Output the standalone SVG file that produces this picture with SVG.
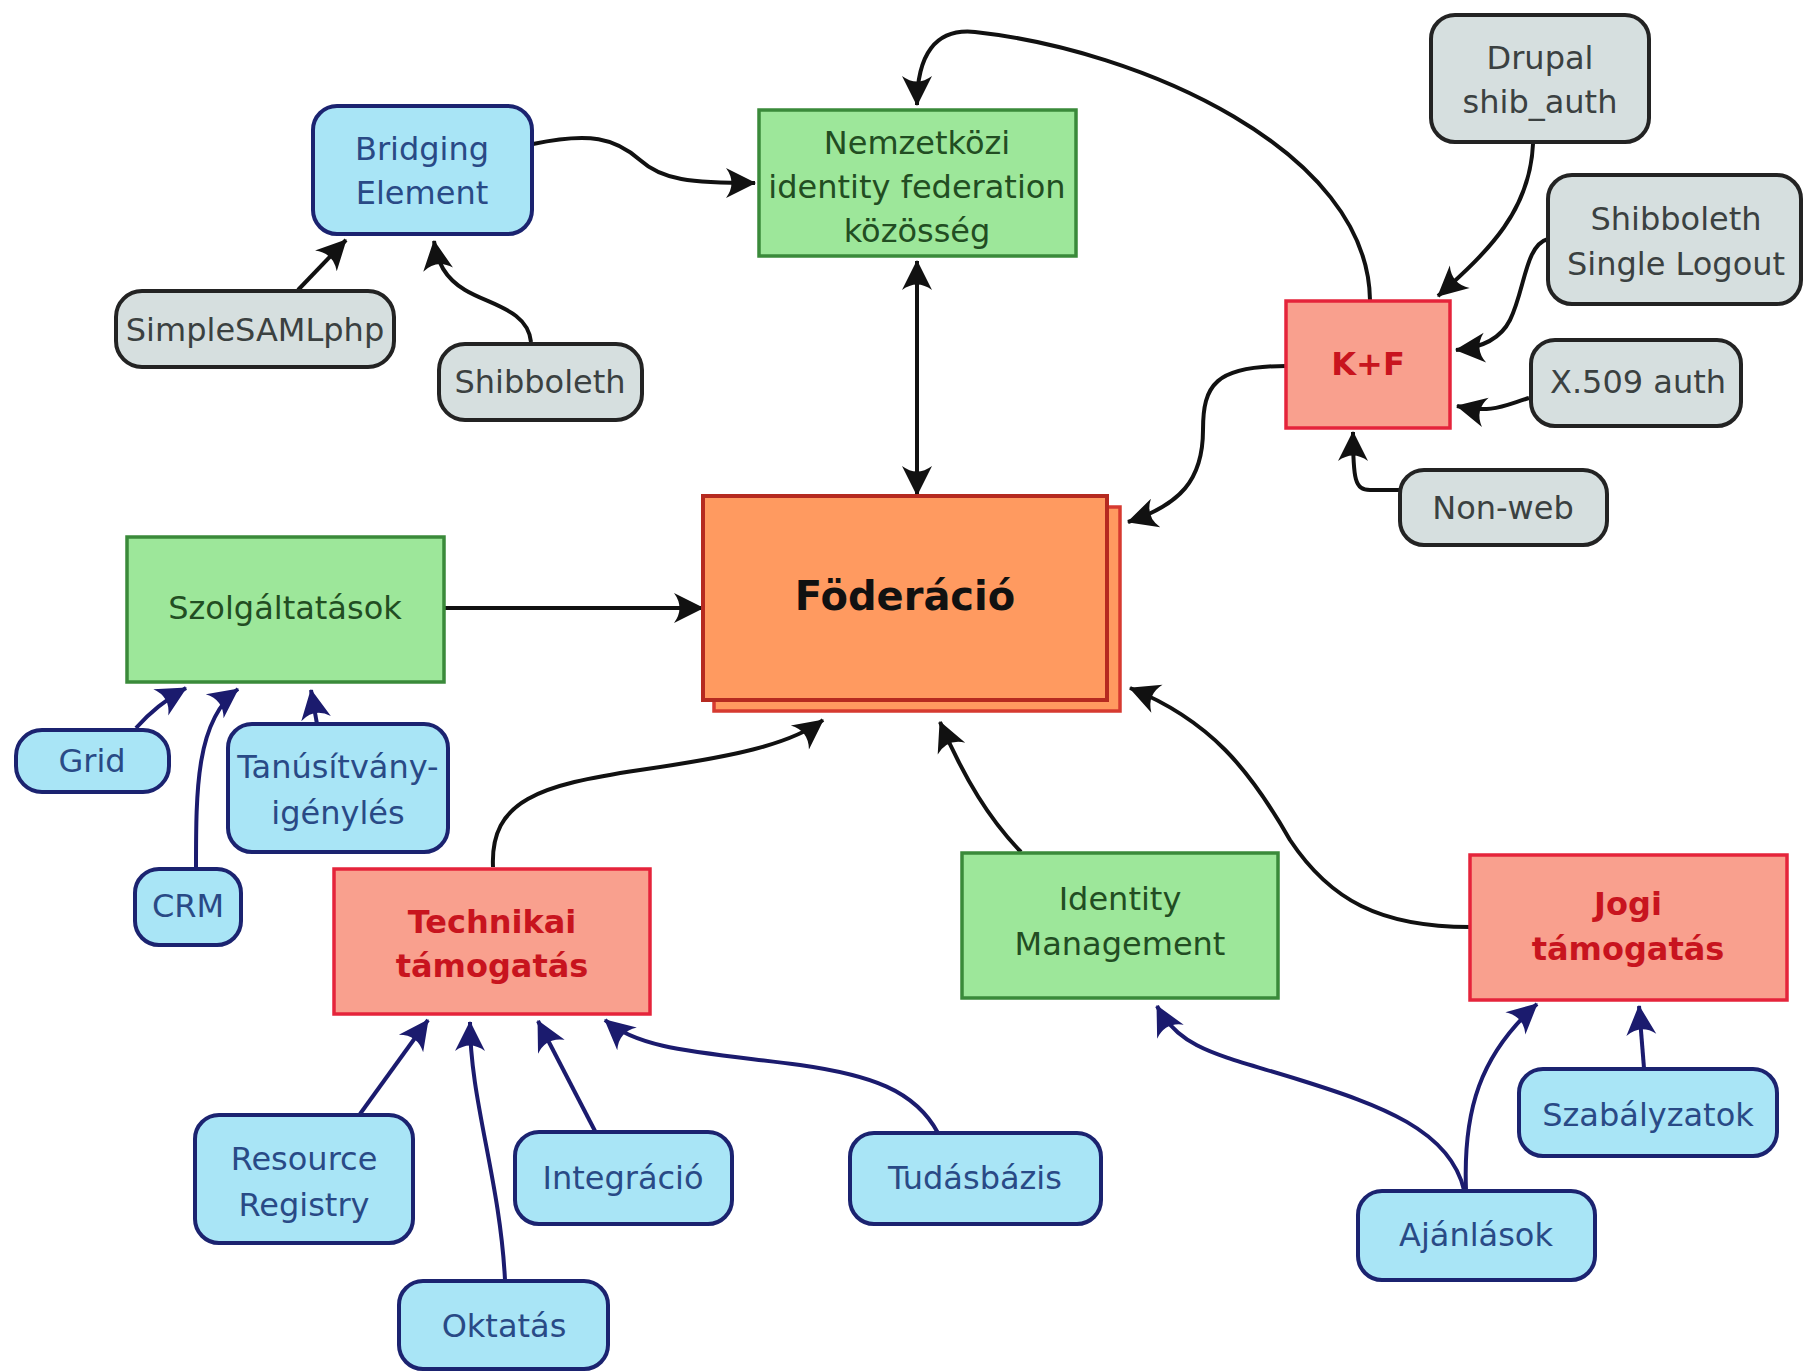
<svg xmlns="http://www.w3.org/2000/svg" width="1805" height="1372" viewBox="0 0 1805 1372">
<defs>
<style>
text{font-family:"DejaVu Sans","Liberation Sans",sans-serif;font-size:32px;text-anchor:middle;dominant-baseline:central}
.blue rect{fill:#a9e5f6;stroke:#1b2370;stroke-width:4}
.blue text{fill:#294a86}
.gray rect{fill:#d6dfdf;stroke:#232323;stroke-width:4}
.gray text{fill:#3b4141}
.green rect{fill:#9de79a;stroke:#3a8a3a;stroke-width:3.5}
.green text{fill:#224d22}
.sal rect{fill:#f9a08e;stroke:#e5243b;stroke-width:3.5}
.sal text{fill:#c8141e;font-weight:bold}
.k{fill:none;stroke:#111;stroke-width:4;marker-end:url(#ak)}
.n{fill:none;stroke:#1b1b6e;stroke-width:4;marker-end:url(#an)}
</style>
<marker id="ak" markerUnits="userSpaceOnUse" viewBox="-32 -17 34 34" refX="0" refY="0" markerWidth="34" markerHeight="34" orient="auto-start-reverse">
<path d="M1,0 L-29,-15 Q-18,0 -29,15 Z" fill="#111"/>
</marker>
<marker id="an" markerUnits="userSpaceOnUse" viewBox="-32 -17 34 34" refX="0" refY="0" markerWidth="34" markerHeight="34" orient="auto">
<path d="M1,0 L-29,-15 Q-18,0 -29,15 Z" fill="#1b1b6e"/>
</marker>
</defs>
<rect width="1805" height="1372" fill="#fff"/>
<g id="connectors">
<path class="k" d="M533,144 C590,132 615,138 640,160 C662,180 690,183 755,183"/>
<path class="k" d="M298,290 L346,240"/>
<path class="k" d="M531,342 C528,310 490,305 465,290 C445,278 437,262 434,241"/>
<path class="k" d="M1370,300 C1368,150 1140,50 975,32 C935,28 917,55 917,105"/>
<path class="k" d="M917,261 L917,495" style="marker-start:url(#ak)"/>
<path class="k" d="M445,608 L703,608"/>
<path class="k" d="M1286,366 C1215,366 1203,385 1203,430 C1203,480 1180,505 1128,522"/>
<path class="k" d="M493,867 C490,800 540,785 640,770 C730,757 790,745 823,720"/>
<path class="k" d="M1021,852 C990,820 965,780 940,722"/>
<path class="k" d="M1470,927 C1380,927 1330,900 1290,840 C1250,770 1210,720 1130,688"/>
<path class="k" d="M1533,144 C1530,210 1490,250 1438,296"/>
<path class="k" d="M1548,239 C1525,245 1525,290 1510,320 C1500,340 1480,348 1456,350"/>
<path class="k" d="M1529,398 C1505,405 1492,414 1457,406"/>
<path class="k" d="M1400,490 L1370,490 C1355,490 1353,480 1353,432"/>
<path class="n" d="M136,728 C150,712 165,700 186,688"/>
<path class="n" d="M196,868 C196,790 196,720 238,689"/>
<path class="n" d="M317,724 L311,690"/>
<path class="n" d="M360,1114 L428,1020"/>
<path class="n" d="M505,1280 C500,1180 470,1100 470,1022"/>
<path class="n" d="M595,1131 L538,1021"/>
<path class="n" d="M938,1133 C915,1090 870,1075 800,1065 C700,1052 640,1050 605,1020"/>
<path class="n" d="M1464,1190 C1450,1130 1380,1105 1300,1080 C1220,1055 1180,1050 1157,1006"/>
<path class="n" d="M1466,1190 C1463,1110 1480,1055 1537,1004"/>
<path class="n" d="M1644,1068 L1639,1006"/>
</g>
<g id="foderacio">
<rect x="714" y="507" width="406" height="204" fill="#ff9a60" stroke="#d63a30" stroke-width="3.5"/>
<rect x="703" y="496" width="404" height="204" fill="#ff9a60" stroke="#b52a20" stroke-width="4"/>
<text x="905" y="596" style="font-weight:bold;font-size:40px;fill:#111">Föderáció</text>
</g>
<g id="bridging" class="blue"><rect x="313" y="106" width="219" height="128" rx="24"/><text x="422" y="149">Bridging</text><text x="422" y="193">Element</text></g>
<g id="nemzetkozi" class="green"><rect x="759" y="110" width="317" height="146"/><text x="917" y="143">Nemzetközi</text><text x="917" y="187">identity federation</text><text x="917" y="231">közösség</text></g>
<g id="simplesaml" class="gray"><rect x="116" y="291" width="278" height="76" rx="26"/><text x="255" y="330">SimpleSAMLphp</text></g>
<g id="shibboleth" class="gray"><rect x="439" y="344" width="203" height="76" rx="26"/><text x="540" y="382">Shibboleth</text></g>
<g id="drupal" class="gray"><rect x="1431" y="15" width="218" height="127" rx="24"/><text x="1540" y="58">Drupal</text><text x="1540" y="102">shib_auth</text></g>
<g id="slo" class="gray"><rect x="1548" y="175" width="253" height="129" rx="24"/><text x="1676" y="219">Shibboleth</text><text x="1676" y="264">Single Logout</text></g>
<g id="kf" class="sal"><rect x="1286" y="301" width="164" height="127"/><text x="1368" y="364">K+F</text></g>
<g id="x509" class="gray"><rect x="1531" y="340" width="210" height="86" rx="24"/><text x="1638" y="382">X.509 auth</text></g>
<g id="nonweb" class="gray"><rect x="1400" y="470" width="207" height="75" rx="24"/><text x="1503" y="508">Non-web</text></g>
<g id="szolg" class="green"><rect x="127" y="537" width="317" height="145"/><text x="285" y="608">Szolgáltatások</text></g>
<g id="grid" class="blue"><rect x="16" y="730" width="153" height="62" rx="26"/><text x="92" y="761">Grid</text></g>
<g id="tanus" class="blue"><rect x="228" y="724" width="220" height="128" rx="24"/><text x="338" y="767">Tanúsítvány-</text><text x="338" y="813">igénylés</text></g>
<g id="crm" class="blue"><rect x="135" y="869" width="106" height="76" rx="24"/><text x="188" y="906">CRM</text></g>
<g id="technikai" class="sal"><rect x="334" y="869" width="316" height="145"/><text x="492" y="922">Technikai</text><text x="492" y="966">támogatás</text></g>
<g id="idm" class="green"><rect x="962" y="853" width="316" height="145"/><text x="1120" y="899">Identity</text><text x="1120" y="944">Management</text></g>
<g id="jogi" class="sal"><rect x="1470" y="855" width="317" height="145"/><text x="1628" y="904">Jogi</text><text x="1628" y="949">támogatás</text></g>
<g id="rr" class="blue"><rect x="195" y="1115" width="218" height="128" rx="24"/><text x="304" y="1159">Resource</text><text x="304" y="1205">Registry</text></g>
<g id="integracio" class="blue"><rect x="515" y="1132" width="217" height="92" rx="24"/><text x="623" y="1178">Integráció</text></g>
<g id="tudasbazis" class="blue"><rect x="850" y="1133" width="251" height="91" rx="24"/><text x="975" y="1178">Tudásbázis</text></g>
<g id="oktatas" class="blue"><rect x="399" y="1281" width="209" height="88" rx="24"/><text x="504" y="1326">Oktatás</text></g>
<g id="szabalyzatok" class="blue"><rect x="1519" y="1069" width="258" height="87" rx="24"/><text x="1648" y="1115">Szabályzatok</text></g>
<g id="ajanlasok" class="blue"><rect x="1358" y="1191" width="237" height="89" rx="24"/><text x="1476" y="1235">Ajánlások</text></g>
</svg>
